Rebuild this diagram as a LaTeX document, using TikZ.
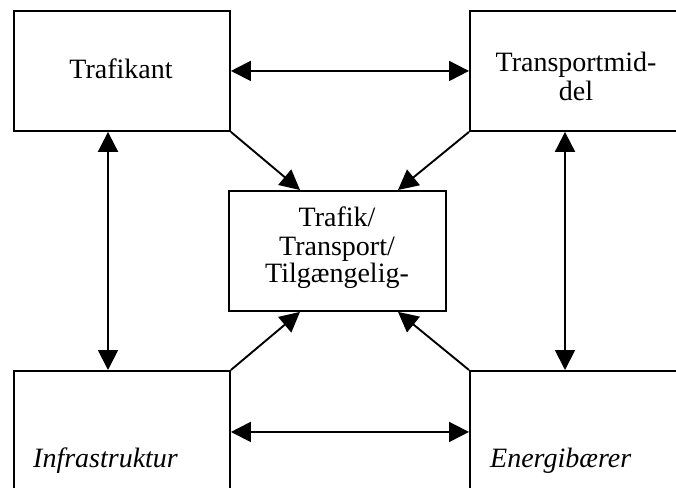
\documentclass[tikz,border=0pt]{standalone}
\usepackage{fontspec}
\setmainfont{Liberation Serif}
\usetikzlibrary{arrows.meta}
\begin{document}
\begin{tikzpicture}[x=1pt,y=-1pt,
  box/.style={draw,line width=1.9pt,inner sep=0pt,anchor=north west},
  lbl/.style={inner sep=0pt,font=\fontsize{28}{28}\selectfont,align=center,anchor=base},
  conn/.style={line width=1.9pt,-{Triangle[length=20pt,width=20pt]}},
  bconn/.style={line width=1.9pt,{Triangle[length=20pt,width=20pt]}-{Triangle[length=20pt,width=20pt]}}]
\useasboundingbox (0,0) rectangle (676,487);
\clip (0,0) rectangle (676,487);
\fill[white] (0,0) rectangle (676,487);
% boxes
\node[box,minimum width=216pt,minimum height=120pt] (TL) at (13,10) {};
\node[box,minimum width=214pt,minimum height=120pt] (TR) at (469,10) {};
\node[box,minimum width=217pt,minimum height=120pt] (C) at (228,190) {};
\node[box,minimum width=216pt,minimum height=122pt] (BL) at (13,370) {};
\node[box,minimum width=214pt,minimum height=122pt] (BR) at (469,370) {};
% texts
\node[lbl] (tTL) at (121,78) {Trafikant};
\node[lbl] (tTR) at (576,100) {Transportmid-\\[1pt]del};
\node[lbl] (tC) at (337,282) {Trafik/\\[1pt]Transport/\\[-1pt]Tilgængelig-};
\node[lbl,anchor=base west] (tBL) at (33,467) {\itshape Infrastruktur};
\node[lbl,anchor=base west] (tBR) at (490,467) {\itshape Energibærer};
% connectors
\draw[bconn] (TL.east) -- (TR.west);
\draw[bconn] (BL.east) -- (BR.west);
\draw[bconn] ([xshift=95pt]TL.south west) -- ([xshift=95pt]BL.north west);
\draw[bconn] ([xshift=96pt]TR.south west) -- ([xshift=96pt]BR.north west);
\draw[conn] (TL.south east) -- ([xshift=72pt]C.north west);
\draw[conn] (TR.south west) -- ([xshift=170pt]C.north west);
\draw[conn] (BL.north east) -- ([xshift=72pt]C.south west);
\draw[conn] (BR.north west) -- ([xshift=170pt]C.south west);
\end{tikzpicture}
\end{document}
